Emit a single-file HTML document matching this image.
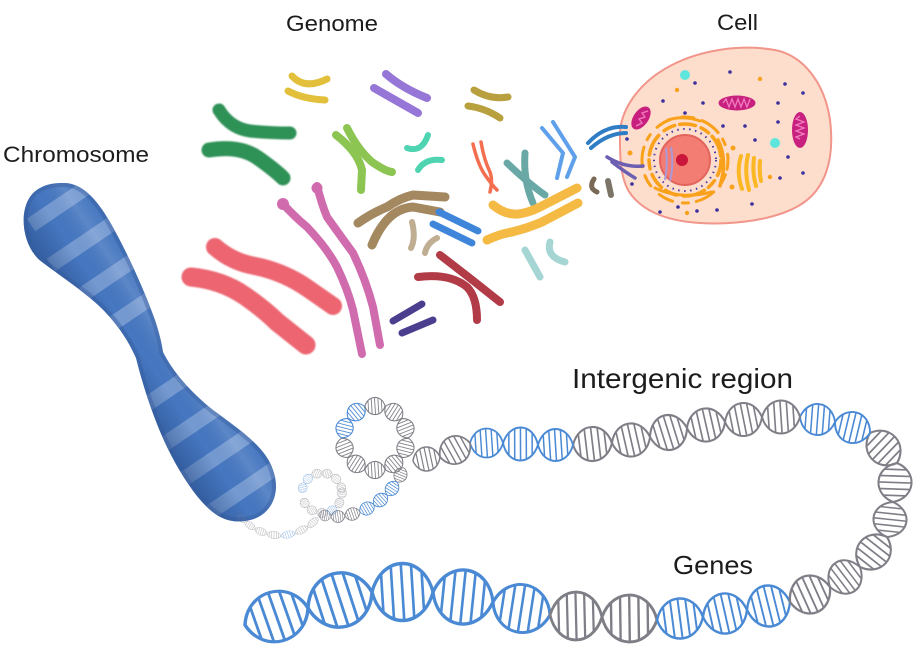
<!DOCTYPE html>
<html><head><meta charset="utf-8"><style>
html,body{margin:0;padding:0;background:#fff;}
svg{display:block;}
text{font-family:"Liberation Sans",sans-serif;fill:#1c1c1c;}
</style></head><body>
<svg width="923" height="648" viewBox="0 0 923 648" xmlns="http://www.w3.org/2000/svg">
<defs>
<clipPath id="lc"><path d="M-30,0 C-20,-34.7 20,-34.7 30,0 C20,34.7 -20,34.7 -30,0Z"/></clipPath>
<g id="bb" fill="none" stroke="#4a89d4">
<path clip-path="url(#lc)" stroke-width="2.6" d="M-22,-30L-18,30M-12,-30L-8,30M-2,-30L2,30M8,-30L12,30M18,-30L22,30"/>
<path stroke-width="3.2" d="M-30,0 C-20,-34.7 20,-34.7 30,0 C20,34.7 -20,34.7 -30,0Z"/>
</g>
<g id="gb" fill="none" stroke="#7e7e86">
<path clip-path="url(#lc)" stroke-width="2.6" d="M-22,-30L-18,30M-12,-30L-8,30M-2,-30L2,30M8,-30L12,30M18,-30L22,30"/>
<path stroke-width="3.2" d="M-30,0 C-20,-34.7 20,-34.7 30,0 C20,34.7 -20,34.7 -30,0Z"/>
</g>
<clipPath id="chc"><path d="M62,183 C80,182 95,196 110,222 C127,252 143,287 155,320 C160,335 162,345 163,352 C172,370 188,390 213,410 C243,432 266,448 273,470 C282,495 270,518 245,521 C224,524 210,512 197,496 C177,470 162,440 150,405 C144,388 139,370 136,358 C129,342 119,327 107,314 C92,297 66,280 42,262 C20,246 16,200 40,188 C47,184 55,183 62,183 Z"/></clipPath>
<linearGradient id="chg" gradientUnits="userSpaceOnUse" x1="120" y1="371" x2="180" y2="331">
<stop offset="0" stop-color="#1e3f7a" stop-opacity=".4"/>
<stop offset=".4" stop-color="#1e3f7a" stop-opacity="0"/>
<stop offset=".75" stop-color="#ffffff" stop-opacity=".12"/>
<stop offset="1" stop-color="#ffffff" stop-opacity="0"/>
</linearGradient>
<filter id="fz" x="-20%" y="-20%" width="140%" height="140%"><feGaussianBlur stdDeviation="0.9"/></filter>
</defs>

<!-- Labels -->
<text x="286" y="31" font-size="22" textLength="92" lengthAdjust="spacingAndGlyphs">Genome</text>
<text x="717" y="30" font-size="22" textLength="41" lengthAdjust="spacingAndGlyphs">Cell</text>
<text x="3" y="162" font-size="22.5" textLength="146" lengthAdjust="spacingAndGlyphs">Chromosome</text>
<text x="572" y="388" font-size="28" textLength="221" lengthAdjust="spacingAndGlyphs">Intergenic region</text>
<text x="673" y="574" font-size="26" textLength="80" lengthAdjust="spacingAndGlyphs">Genes</text>

<!-- Chromosome -->
<g clip-path="url(#chc)">
<rect x="0" y="170" width="300" height="370" fill="#4677c0"/>
<g stroke="#86a6d7" stroke-width="15" opacity=".75" fill="none">
<path d="M31,225L105,175"/>
<path d="M51,265L125,215"/>
<path d="M73,301L147,251"/>
<path d="M93,337L167,287"/>
<path d="M128,417L202,367"/>
<path d="M151,453L225,403"/>
<path d="M175,485L249,435"/>
<path d="M203,517L277,467"/>
</g>
<rect x="0" y="170" width="300" height="370" fill="url(#chg)"/>
<path d="M62,183 C80,182 95,196 110,222 C127,252 143,287 155,320 C160,335 162,345 163,352 C172,370 188,390 213,410 C243,432 266,448 273,470 C282,495 270,518 245,521 C224,524 210,512 197,496 C177,470 162,440 150,405 C144,388 139,370 136,358 C129,342 119,327 107,314 C92,297 66,280 42,262 C20,246 16,200 40,188 C47,184 55,183 62,183 Z" fill="none" stroke="#35599a" stroke-width="8" opacity=".4"/>
</g>

<!-- Genome chromosomes -->
<g fill="none" stroke-linecap="round" stroke-linejoin="round">
<g filter="url(#fz)">
<path d="M215,247 Q232,262 255,266 Q285,272 310,290 L333,306" stroke="#ec6571" stroke-width="18"/>
<path d="M191,277 Q222,280 245,296 Q265,310 277,322 L306,345" stroke="#ec6571" stroke-width="19"/>
<path d="M219,110 Q230,128 250,131 Q272,133 290,133" stroke="#2e9156" stroke-width="13"/>
<path d="M209,150 Q240,145 258,158 Q275,170 283,178" stroke="#2e9156" stroke-width="15"/>
</g>
<path d="M292,76 Q305,90 327,79" stroke="#e2c03c" stroke-width="7"/>
<path d="M288,91 Q303,99 325,100" stroke="#e2c03c" stroke-width="7"/>
<path d="M386,74 Q402,88 427,98" stroke="#9677d8" stroke-width="8"/>
<path d="M374,88 Q395,100 418,113" stroke="#9677d8" stroke-width="8"/>
<path d="M474,90 Q490,100 508,97" stroke="#b9a03e" stroke-width="7"/>
<path d="M468,106 Q485,108 500,118" stroke="#b9a03e" stroke-width="7"/>
<path d="M336,135 Q358,152 362,170 L361,190" stroke="#8dc553" stroke-width="8"/>
<path d="M347,128 Q358,150 372,162 Q385,171 392,172" stroke="#8dc553" stroke-width="8"/>
<path d="M407,148 Q422,153 428,135" stroke="#4fd4b2" stroke-width="6"/>
<path d="M418,170 Q425,158 442,160" stroke="#4fd4b2" stroke-width="6"/>
<path d="M473,144 Q478,165 485,175 Q492,185 497,190" stroke="#f46e50" stroke-width="3.5"/>
<path d="M481,142 Q484,160 490,172 Q493,180 490,192" stroke="#f46e50" stroke-width="3.5"/>
<path d="M507,163 Q528,183 545,195" stroke="#6aa8a6" stroke-width="7"/>
<path d="M525,153 Q523,180 533,203" stroke="#6aa8a6" stroke-width="7"/>
<path d="M542,128 L563,153 L557,178" stroke="#5fa0ea" stroke-width="4"/>
<path d="M553,122 L575,157 L567,177" stroke="#5fa0ea" stroke-width="4"/>
<path d="M282,203 Q296,218 307,227 Q327,248 337,267 Q348,290 353,310 L362,354" stroke="#d06cae" stroke-width="8"/>
<path d="M317,186 Q322,205 327,217 Q342,238 353,253 Q366,280 373,307 L380,345" stroke="#d06cae" stroke-width="8"/>
<circle cx="283" cy="204" r="6" fill="#d06cae" stroke="none"/>
<circle cx="317" cy="188" r="5.5" fill="#d06cae" stroke="none"/>
<path d="M358,223 Q372,213 387,207 Q400,198 413,195 L445,197" stroke="#a38860" stroke-width="9"/>
<path d="M372,245 Q378,230 387,220 Q398,208 413,207 L440,212" stroke="#a38860" stroke-width="9"/>
<path d="M412,222 Q416,238 411,248" stroke="#c0ae92" stroke-width="6"/>
<path d="M425,253 Q427,243 437,238" stroke="#c0ae92" stroke-width="6"/>
<path d="M439,212 L478,231" stroke="#3f86da" stroke-width="7"/>
<path d="M433,224 L472,243" stroke="#3f86da" stroke-width="7"/>
<path d="M493,205 Q505,215 518,214 Q528,213 540,207 L577,188" stroke="#f5ba43" stroke-width="9"/>
<path d="M487,240 Q500,234 512,232 Q528,228 542,222 L578,203" stroke="#f5ba43" stroke-width="9"/>
<path d="M525,250 L540,277" stroke="#a5d6d3" stroke-width="7"/>
<path d="M550,242 Q546,257 565,262" stroke="#a5d6d3" stroke-width="7"/>
<path d="M418,277 Q450,273 467,287 Q477,297 477,320" stroke="#b23b48" stroke-width="8"/>
<path d="M440,255 Q470,278 500,302" stroke="#b23b48" stroke-width="8"/>
<path d="M393,321 L422,304" stroke="#4c3e8f" stroke-width="7"/>
<path d="M402,333 L433,320" stroke="#4c3e8f" stroke-width="7"/>
<path d="M594,179 Q588,188 597,192" stroke="#7a6856" stroke-width="5"/>
</g>

<!-- Cell -->
<path d="M620,140 C618,110 640,82 670,66 C700,50 740,44 775,50 C805,56 825,85 830,120 C835,160 825,190 800,205 C775,220 735,225 700,223 C665,221 640,210 628,190 C620,175 620,155 620,140 Z" fill="#fddecd" stroke="#f2958b" stroke-width="2"/>
<circle cx="685" cy="75" r="5" fill="#5fe6dc"/>
<circle cx="775" cy="143" r="5" fill="#5fe6dc"/>
<g>
<ellipse cx="737" cy="103" rx="18.5" ry="7.5" fill="#c8207e"/>
<path d="M723,103 l3,-4 l3,8 l3,-8 l3,8 l3,-8 l3,8 l3,-8 l3,8 l3,-8" fill="none" stroke="#f27cc0" stroke-width="1.3"/>
<ellipse cx="641" cy="118" rx="7.5" ry="13" transform="rotate(35 641 118)" fill="#c8207e"/>
<path d="M636,126 l6,-3 l-3,-4 l6,-2 l-3,-4 l6,-2" fill="none" stroke="#f27cc0" stroke-width="1.3"/>
<ellipse cx="800" cy="130" rx="8" ry="18" fill="#c8207e"/>
<path d="M800,116 l-4,3 l8,3 l-8,3 l8,3 l-8,3 l8,3 l-8,3 l4,2" fill="none" stroke="#f27cc0" stroke-width="1.3"/>
</g>
<g fill="none" stroke="#f9a11b" stroke-linecap="round">
<circle cx="685" cy="160" r="36" stroke-width="3.5" stroke-dasharray="16 6 9 5 22 7 12 5"/>
<circle cx="685" cy="160" r="43" stroke-width="3" stroke-dasharray="12 9 20 8 6 10 15 12" transform="rotate(20 685 160)"/>
<path d="M668,120 Q683,115 700,121" stroke-width="3"/>
<path d="M718,140 Q728,160 720,186" stroke-width="3.5"/>
<path d="M655,188 Q680,200 712,192" stroke-width="3"/>
</g>
<circle cx="685" cy="160" r="31" fill="none" stroke="#4a3aa0" stroke-width="2" stroke-dasharray="1.5 4.5"/>
<circle cx="685" cy="160" r="25" fill="#f47d73" stroke="#e2645c" stroke-width="2"/>
<circle cx="682" cy="160" r="6" fill="#c9163a"/>
<path d="M666,148 Q668,165 665,180 M671,147 Q674,165 670,181" fill="none" stroke="#a99ad8" stroke-width="2"/>
<g fill="none" stroke="#fbb724" stroke-width="4" stroke-linecap="round">
<path d="M741,156 Q736,172 742,189"/>
<path d="M748,155 Q744,171 749,190"/>
<path d="M754,158 Q752,172 756,186"/>
<path d="M760,161 Q759,172 761,181"/>
</g>
<g fill="#3b2f9c">
<circle cx="730" cy="72" r="1.8"/><circle cx="695" cy="83" r="1.8"/><circle cx="785" cy="84" r="1.8"/>
<circle cx="803" cy="93" r="1.8"/><circle cx="663" cy="101" r="1.8"/><circle cx="703" cy="103" r="1.8"/>
<circle cx="778" cy="103" r="1.8"/><circle cx="685" cy="113" r="1.8"/><circle cx="778" cy="122" r="1.8"/>
<circle cx="723" cy="126" r="1.8"/><circle cx="745" cy="126" r="1.8"/><circle cx="627" cy="139" r="1.8"/>
<circle cx="755" cy="140" r="1.8"/><circle cx="788" cy="157" r="1.8"/><circle cx="780" cy="178" r="1.8"/>
<circle cx="803" cy="173" r="1.8"/><circle cx="632" cy="184" r="1.8"/><circle cx="752" cy="204" r="1.8"/>
<circle cx="678" cy="207" r="1.8"/><circle cx="697" cy="211" r="1.8"/><circle cx="717" cy="210" r="1.8"/>
<circle cx="660" cy="212" r="1.8"/>
</g>
<g fill="#f9a11b">
<circle cx="760" cy="79" r="2.2"/><circle cx="677" cy="90" r="2.2"/><circle cx="630" cy="153" r="2.5"/>
<circle cx="770" cy="177" r="2.2"/><circle cx="687" cy="213" r="2.2"/><circle cx="732" cy="187" r="2.5"/>
<circle cx="733" cy="148" r="2.5"/>
</g>
<g fill="none" stroke-linecap="round">
<path d="M588,143 Q605,125 626,127" stroke="#2f7dc4" stroke-width="4"/>
<path d="M591,148 Q608,133 626,133" stroke="#2f7dc4" stroke-width="4"/>
<path d="M607,157 Q625,168 643,166" stroke="#6c5eb0" stroke-width="3.5"/>
<path d="M612,162 Q625,172 635,178" stroke="#6c5eb0" stroke-width="3.5"/>
<path d="M608,181 L611,195" stroke="#7c7466" stroke-width="6"/>
</g>

<!-- DNA main chain -->
<use href="#bb" transform="translate(276.5,616.5) rotate(-15.1) scale(1.088,0.96)"/>
<use href="#bb" transform="translate(340,600) rotate(-14) scale(1.1,1.04)"/>
<use href="#bb" transform="translate(402.5,592) rotate(0) scale(1.017,1.096)"/>
<use href="#bb" transform="translate(463,597) rotate(9.5) scale(1.013,1.04)"/>
<use href="#bb" transform="translate(521.5,608.5) rotate(12.8) scale(0.975,0.92)"/>
<use href="#gb" transform="translate(576,616) rotate(2.2) scale(0.867,0.92)"/>
<use href="#gb" transform="translate(629.5,618.5) rotate(3.1) scale(0.918,0.9)"/>
<use href="#bb" transform="translate(680,618.5) rotate(-3.7) scale(0.768,0.77)"/>
<use href="#bb" transform="translate(725,613.5) rotate(-9) scale(0.743,0.77)"/>
<use href="#bb" transform="translate(768.5,606) rotate(-10.5) scale(0.728,0.79)"/>
<use href="#gb" transform="translate(810,594.5) rotate(-20.6) scale(0.712,0.73)"/>
<use href="#gb" transform="translate(845,577) rotate(-33.7) scale(0.6,0.654)"/>
<use href="#gb" transform="translate(873.5,552) rotate(-48) scale(0.673,0.635)"/>
<use href="#gb" transform="translate(890,519.5) rotate(-80.3) scale(0.592,0.635)"/>
<use href="#gb" transform="translate(895,482.5) rotate(-84.1) scale(0.653,0.635)"/>
<use href="#gb" transform="translate(883.5,448) rotate(-132) scale(0.673,0.615)"/>
<use href="#bb" transform="translate(852.5,427.5) rotate(197.4) scale(0.612,0.596)"/>
<use href="#bb" transform="translate(817.5,419.5) rotate(188.1) scale(0.59,0.596)"/>
<use href="#gb" transform="translate(781,417) rotate(180) scale(0.633,0.635)"/>
<use href="#gb" transform="translate(743.5,419.5) rotate(172.3) scale(0.622,0.635)"/>
<use href="#gb" transform="translate(706,425) rotate(171) scale(0.642,0.635)"/>
<use href="#gb" transform="translate(668.5,432.5) rotate(166.3) scale(0.635,0.673)"/>
<use href="#gb" transform="translate(631,440) rotate(171) scale(0.642,0.635)"/>
<use href="#gb" transform="translate(592.5,444) rotate(177) scale(0.65,0.654)"/>
<use href="#bb" transform="translate(555.5,445) rotate(180) scale(0.583,0.615)"/>
<use href="#bb" transform="translate(520.5,444) rotate(183.3) scale(0.583,0.635)"/>
<use href="#bb" transform="translate(486.5,443) rotate(180) scale(0.55,0.558)"/>
<use href="#gb" transform="translate(455,450) rotate(155) scale(0.552,0.538)"/>
<use href="#gb" transform="translate(426.5,459) rotate(171.6) scale(0.455,0.46)"/>

<!-- big ring -->
<g transform="translate(375,438)">
<use href="#gb" transform="rotate(18) translate(32,0) rotate(90) scale(0.335,0.33)"/>
<use href="#gb" transform="rotate(54) translate(32,0) rotate(90) scale(0.335,0.33)"/>
<use href="#gb" transform="rotate(90) translate(32,0) rotate(90) scale(0.335,0.33)"/>
<use href="#gb" transform="rotate(126) translate(32,0) rotate(90) scale(0.335,0.33)"/>
<use href="#gb" transform="rotate(162) translate(32,0) rotate(90) scale(0.335,0.33)"/>
<use href="#bb" transform="rotate(198) translate(32,0) rotate(90) scale(0.335,0.33)"/>
<use href="#bb" transform="rotate(234) translate(32,0) rotate(90) scale(0.335,0.33)"/>
<use href="#gb" transform="rotate(270) translate(32,0) rotate(90) scale(0.335,0.33)"/>
<use href="#gb" transform="rotate(306) translate(32,0) rotate(90) scale(0.335,0.33)"/>
<use href="#gb" transform="rotate(342) translate(32,0) rotate(90) scale(0.335,0.33)"/>
</g>
<use href="#gb" transform="translate(400.5,475) rotate(116.6) scale(0.262,0.25)"/>
<use href="#bb" transform="translate(392,488.5) rotate(127.6) scale(0.273,0.25)"/>
<use href="#bb" transform="translate(380.5,500) rotate(142.4) scale(0.273,0.25)"/>
<use href="#bb" transform="translate(367,508.5) rotate(153.4) scale(0.262,0.25)"/>
<use href="#gb" transform="translate(352.5,514) rotate(165) scale(0.258,0.24)"/>
<use href="#gb" transform="translate(338,516.5) rotate(176) scale(0.233,0.23)"/>
<use href="#gb" transform="translate(325,515.5) rotate(194) scale(0.207,0.21)"/>
<g transform="translate(322,493)" opacity=".55">
<use href="#gb" transform="rotate(0) translate(20,0) rotate(90) scale(0.175,0.17)"/>
<use href="#gb" transform="rotate(30) translate(20,0) rotate(90) scale(0.175,0.17)"/>
<use href="#bb" transform="rotate(60) translate(20,0) rotate(90) scale(0.175,0.17)"/>
<use href="#gb" transform="rotate(90) translate(20,0) rotate(90) scale(0.175,0.17)"/>
<use href="#gb" transform="rotate(120) translate(20,0) rotate(90) scale(0.175,0.17)"/>
<use href="#gb" transform="rotate(150) translate(20,0) rotate(90) scale(0.175,0.17)"/>
<use href="#bb" transform="rotate(195) translate(20,0) rotate(90) scale(0.175,0.17)"/>
<use href="#bb" transform="rotate(225) translate(20,0) rotate(90) scale(0.175,0.17)"/>
<use href="#gb" transform="rotate(255) translate(20,0) rotate(90) scale(0.175,0.17)"/>
<use href="#gb" transform="rotate(285) translate(20,0) rotate(90) scale(0.175,0.17)"/>
<use href="#gb" transform="rotate(315) translate(20,0) rotate(90) scale(0.175,0.17)"/>
<use href="#gb" transform="rotate(345) translate(20,0) rotate(90) scale(0.175,0.17)"/>
</g>
<g opacity=".5">
<use href="#gb" transform="translate(313,522.5) rotate(138) scale(0.225,0.14)"/>
<use href="#gb" transform="translate(301.5,530) rotate(155) scale(0.238,0.14)"/>
<use href="#bb" transform="translate(288,534.5) rotate(168) scale(0.238,0.14)"/>
<use href="#gb" transform="translate(274,535) rotate(188) scale(0.235,0.14)"/>
<use href="#gb" transform="translate(261,531.5) rotate(202.6) scale(0.217,0.14)"/>
<use href="#gb" transform="translate(250,525.5) rotate(215) scale(0.203,0.13)"/>
<use href="#gb" transform="translate(241.5,518.5) rotate(225) scale(0.165,0.12)"/>
</g>
</svg>
</body></html>
